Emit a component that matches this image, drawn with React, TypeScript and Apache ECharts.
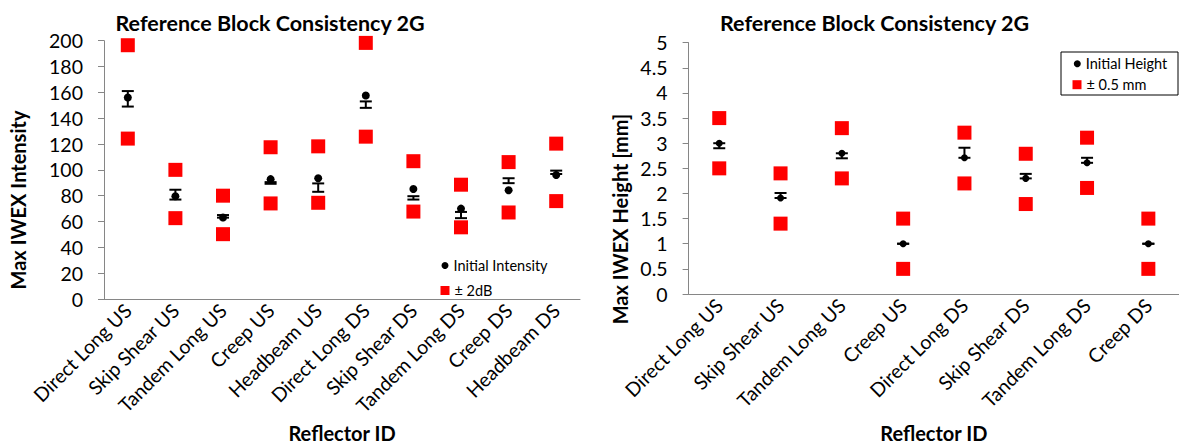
import { useEffect, useRef } from 'react';
import * as echarts from 'echarts';

const FONT = 'Lato, "Liberation Sans", sans-serif';

// Left chart: Max IWEX Intensity
const leftCategories = [
  'Direct Long US', 'Skip Shear US', 'Tandem Long US', 'Creep US', 'Headbeam US',
  'Direct Long DS', 'Skip Shear DS', 'Tandem Long DS', 'Creep DS', 'Headbeam DS',
];
const intensityInitial = [156, 79.6, 63.1, 92.8, 93.5, 157.6, 85.2, 70, 84.2, 96];
const intensityUpper = [196.5, 100, 80, 117.5, 118.2, 198.3, 106.7, 88.5, 106, 120.3];
const intensityLower = [124.2, 62.6, 50.2, 74, 74.5, 125.7, 67.7, 55.5, 67, 75.8];
const intensityErrLow = [149, 77, 63, 89.2, 83, 148, 77, 62.6, 89.7, 96.8];
const intensityErrHigh = [161, 84.6, 65, 90.5, 89.5, 153, 79.6, 67.4, 93.5, 99.4];

// Right chart: Max IWEX Height [mm]
const rightCategories = [
  'Direct Long US', 'Skip Shear US', 'Tandem Long US', 'Creep US',
  'Direct Long DS', 'Skip Shear DS', 'Tandem Long DS', 'Creep DS',
];
const heightInitial = [3.0, 1.91, 2.8, 1.0, 2.71, 2.3, 2.61, 1.0];
const heightUpper = [3.5, 2.4, 3.3, 1.5, 3.21, 2.79, 3.11, 1.5];
const heightLower = [2.5, 1.4, 2.3, 0.5, 2.2, 1.79, 2.11, 0.5];
const heightErrLow = [2.9, 1.91, 2.7, 1.0, 2.71, 2.3, 2.61, 1.0];
const heightErrHigh = [3.0, 2.01, 2.8, 1.0, 2.91, 2.39, 2.71, 1.0];

const leftTicks = { min: 0, max: 200, interval: 20 };
const rightTicks = { min: 0, max: 5, interval: 0.5 };

const AXIS_COLOR = '#868686';
const TEXT_COLOR = '#000';

function errorRenderItem(params: any, api: any) {
  const x = api.value(0);
  const lo = api.coord([x, api.value(1)]);
  const hi = api.coord([x, api.value(2)]);
  const hw = 6;
  const style = { stroke: '#000', lineWidth: 2 };
  return {
    type: 'group',
    children: [
      { type: 'line', shape: { x1: lo[0], y1: lo[1], x2: hi[0], y2: hi[1] }, style },
      { type: 'line', shape: { x1: lo[0] - hw, y1: lo[1], x2: lo[0] + hw, y2: lo[1] }, style },
      { type: 'line', shape: { x1: hi[0] - hw, y1: hi[1], x2: hi[0] + hw, y2: hi[1] }, style },
    ],
  };
}

function xAxisFor(gridIndex: number, data: string[], nameGap: number) {
  return {
    type: 'category',
    gridIndex,
    data,
    axisLine: { lineStyle: { color: AXIS_COLOR, width: 1 } },
    axisTick: { length: 6, lineStyle: { color: AXIS_COLOR, width: 1 } },
    axisLabel: {
      rotate: 45,
      interval: 0,
      fontSize: 19.5,
      margin: 8,
      color: TEXT_COLOR,
      fontFamily: FONT,
    },
    splitLine: { show: false },
    name: 'Reflector ID',
    nameLocation: 'middle',
    nameGap,
    nameTextStyle: { fontSize: 20, fontWeight: 'bold', color: TEXT_COLOR, fontFamily: FONT },
  };
}

function yAxisFor(gridIndex: number, ticks: { min: number; max: number; interval: number }) {
  return {
    type: 'value',
    gridIndex,
    min: ticks.min,
    max: ticks.max,
    interval: ticks.interval,
    axisLine: { show: true, lineStyle: { color: AXIS_COLOR, width: 1 } },
    axisTick: { show: true, length: 6, lineStyle: { color: AXIS_COLOR, width: 1 } },
    axisLabel: { fontSize: 19.5, margin: 21, color: TEXT_COLOR, fontFamily: FONT },
    splitLine: { show: false },
  };
}

function legendItem(name: string, icon: string, size: number, left: number, top: number) {
  return {
    data: [{ name, icon }],
    left,
    top,
    orient: 'vertical',
    padding: 0,
    itemWidth: size,
    itemHeight: size,
    selectedMode: false,
    textStyle: { fontSize: 14.5, lineHeight: 14, color: TEXT_COLOR, fontFamily: FONT },
  };
}

export default function App() {
  const ref = useRef<HTMLDivElement>(null);

  useEffect(() => {
    if (!ref.current) return;
    const chart = echarts.init(ref.current, null, { renderer: 'svg' });

    const titleStyle = { fontSize: 21.5, fontWeight: 'bold', fontFamily: FONT, fill: TEXT_COLOR, align: 'center', verticalAlign: 'middle' };
    const yTitleStyle = { fontSize: 20, fontWeight: 'bold', fontFamily: FONT, fill: TEXT_COLOR, align: 'center', verticalAlign: 'middle' };

    const option: any = {
      animation: false,
      backgroundColor: '#fff',
      grid: [
        { left: 104, top: 40.7, width: 476, height: 261.6 },
        { left: 688.6, top: 42.7, width: 495.2, height: 254.6 },
      ],
      xAxis: [xAxisFor(0, leftCategories, 124), xAxisFor(1, rightCategories, 129)],
      yAxis: [yAxisFor(0, leftTicks), yAxisFor(1, rightTicks)],
      legend: [
        legendItem('Initial Intensity', 'circle', 7, 441.5, 258),
        legendItem('± 2dB', 'rect', 9, 440.5, 283),
        legendItem('Initial Height', 'circle', 7, 1073.8, 56.3),
        legendItem('± 0.5 mm', 'rect', 9, 1072.5, 77.2),
      ],
      graphic: [
        { type: 'text', x: 270, y: 22.5, style: { ...titleStyle, text: 'Reference Block Consistency 2G' } },
        { type: 'text', x: 874.5, y: 22.5, style: { ...titleStyle, text: 'Reference Block Consistency 2G' } },
        { type: 'text', x: 17.5, y: 200, rotation: Math.PI / 2, style: { ...yTitleStyle, text: 'Max IWEX Intensity' } },
        { type: 'text', x: 620, y: 219, rotation: Math.PI / 2, style: { ...yTitleStyle, text: 'Max IWEX Height [mm]' } },
        {
          type: 'rect', shape: { x: 1061, y: 52, width: 117, height: 43 },
          style: { fill: 'none', stroke: '#000', lineWidth: 1 },
        },
      ],
      series: [
        {
          type: 'custom', name: 'errLeft', xAxisIndex: 0, yAxisIndex: 0,
          renderItem: errorRenderItem, encode: { x: 0, y: [1, 2] },
          data: intensityErrLow.map((lo, i) => [i, lo, intensityErrHigh[i]]), z: 2,
        },
        {
          type: 'scatter', name: 'Initial Intensity', xAxisIndex: 0, yAxisIndex: 0,
          symbol: 'circle', symbolSize: 8, itemStyle: { color: '#000', opacity: 1 },
          data: intensityInitial.map((v, i) => [i, v]), z: 3,
        },
        {
          type: 'scatter', name: '± 2dB', xAxisIndex: 0, yAxisIndex: 0,
          symbol: 'rect', symbolSize: 14, itemStyle: { color: '#FF0000', opacity: 1 },
          data: [
            ...intensityUpper.map((v, i) => [i, v]),
            ...intensityLower.map((v, i) => [i, v]),
          ], z: 3,
        },
        {
          type: 'custom', name: 'errRight', xAxisIndex: 1, yAxisIndex: 1,
          renderItem: errorRenderItem, encode: { x: 0, y: [1, 2] },
          data: heightErrLow.map((lo, i) => [i, lo, heightErrHigh[i]]), z: 2,
        },
        {
          type: 'scatter', name: 'Initial Height', xAxisIndex: 1, yAxisIndex: 1,
          symbol: 'circle', symbolSize: 7, itemStyle: { color: '#000', opacity: 1 },
          data: heightInitial.map((v, i) => [i, v]), z: 3,
        },
        {
          type: 'scatter', name: '± 0.5 mm', xAxisIndex: 1, yAxisIndex: 1,
          symbol: 'rect', symbolSize: 14, itemStyle: { color: '#FF0000', opacity: 1 },
          data: [
            ...heightUpper.map((v, i) => [i, v]),
            ...heightLower.map((v, i) => [i, v]),
          ], z: 3,
        },
      ],
    };

    chart.setOption(option);
    return () => chart.dispose();
  }, []);

  return (
    <div
      ref={ref}
      style={{ position: 'absolute', left: 0, top: 0, width: 1179, height: 448, background: '#fff' }}
    />
  );
}
